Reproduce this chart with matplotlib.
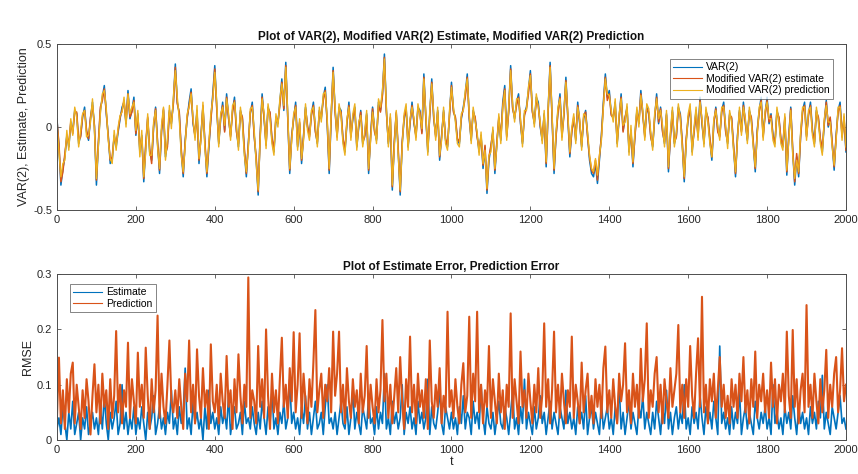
# VAR(2) estimate / prediction plot, matlab-ish look

import numpy as np
import matplotlib
matplotlib.use('Agg')
import matplotlib.pyplot as plt

plt.rcParams['font.family'] = ['Liberation Sans', 'DejaVu Sans']

# top panel: series sampled every 5 steps (one row = 100 steps)
t_top = np.arange(0, 2001, 5)

var2 = [
     0.05, -0.12, -0.35, -0.25, -0.18, -0.05, -0.12,  0.02, -0.02,  0.10,  0.08, -0.10, -0.05,  0.06,  0.12, -0.03, -0.08,  0.05,  0.15,  0.00,
    -0.35, -0.10,  0.10,  0.18,  0.25,  0.08, -0.05, -0.22, -0.20, -0.05, -0.12, -0.03,  0.05,  0.12,  0.15,  0.02,  0.22,  0.05,  0.10,  0.18,
    -0.05,  0.08, -0.15, -0.05, -0.33, -0.12,  0.05, -0.15, -0.20,  0.00,  0.12, -0.10, -0.28, -0.02,  0.10, -0.18, -0.10,  0.10,  0.02,  0.15,
     0.38,  0.15,  0.08, -0.15, -0.30, -0.08,  0.05,  0.15,  0.23,  0.02, -0.05,  0.10, -0.22, -0.05,  0.12, -0.10, -0.30, -0.12,  0.05,  0.20,
     0.37,  0.12, -0.10,  0.05,  0.15, -0.02,  0.20,  0.05, -0.05,  0.10,  0.18, -0.02, -0.12,  0.10,  0.05, -0.15, -0.30, -0.10,  0.08,  0.15,
    -0.05, -0.20, -0.41, -0.05,  0.20,  0.05, -0.10,  0.12,  0.08, -0.08, -0.15,  0.05,  0.02,  0.15,  0.29,  0.10,  0.39,  0.05, -0.28, -0.05,
     0.05,  0.15, -0.12,  0.02, -0.22, -0.05,  0.12,  0.00, -0.05,  0.08,  0.15, -0.02, -0.10,  0.10,  0.05,  0.18,  0.24,  0.02, -0.28,  0.05,
     0.36,  0.10, -0.05,  0.12,  0.10, -0.08, -0.15,  0.02,  0.15, -0.05,  0.05,  0.12, -0.12,  0.00,  0.10, -0.10, -0.05,  0.08, -0.28, -0.05,
     0.12, -0.02, -0.08,  0.15,  0.10,  0.20,  0.44,  0.10, -0.10,  0.05, -0.38, -0.10,  0.08, -0.15, -0.41, -0.10,  0.05,  0.12, -0.12,  0.02,
     0.15,  0.02, -0.05,  0.12,  0.10, -0.03,  0.32,  0.05, -0.15,  0.08,  0.29,  0.05, -0.05,  0.10, -0.20, -0.05,  0.10, -0.08, -0.12,  0.08,
     0.27,  0.10,  0.05, -0.08, -0.10,  0.05,  0.12,  0.20,  0.32,  0.05, -0.08,  0.10,  0.05, -0.05, -0.15, -0.05, -0.25, -0.12, -0.40, -0.20,
    -0.12, -0.02, -0.28, -0.10,  0.05, -0.08,  0.15,  0.25, -0.05,  0.10,  0.37,  0.12,  0.05,  0.15,  0.20,  0.02, -0.10,  0.08,  0.12,  0.22,
     0.34,  0.10,  0.02,  0.18,  0.15,  0.00, -0.08,  0.08, -0.24,  0.10,  0.39,  0.05, -0.28, -0.05,  0.10,  0.20, -0.05,  0.08,  0.30,  0.05,
    -0.18, -0.02,  0.05, -0.08,  0.15,  0.02, -0.12,  0.05,  0.10, -0.05, -0.20, -0.28, -0.30, -0.22, -0.34, -0.20, -0.05,  0.15,  0.32,  0.18,
     0.22,  0.08,  0.05,  0.15, -0.10,  0.05,  0.20, -0.02,  0.05,  0.12, -0.15, -0.02, -0.24, -0.05,  0.10,  0.02,  0.22,  0.08, -0.05,  0.12,
     0.08, -0.05, -0.12,  0.05,  0.20,  0.02,  0.12, -0.02, -0.10,  0.08, -0.27, -0.05,  0.10, -0.10, -0.05,  0.12,  0.08, -0.10, -0.33, -0.08,
     0.05,  0.12, -0.15, -0.02,  0.10, -0.05,  0.18,  0.02, -0.10,  0.10,  0.05, -0.08, -0.20,  0.02,  0.12, -0.02, -0.05,  0.10,  0.15, -0.02,
    -0.10,  0.08,  0.05, -0.12, -0.30, -0.05,  0.10, -0.02,  0.15,  0.02, -0.08,  0.10,  0.05, -0.10, -0.27, -0.02,  0.10,  0.18, -0.05,  0.08,
     0.18,  0.02,  0.08, -0.05, -0.10,  0.10,  0.05, -0.08, -0.12,  0.05, -0.29, -0.05,  0.12, -0.15, -0.35, -0.18, -0.30, -0.05,  0.10,  0.15,
    -0.05,  0.08,  0.15, -0.02, -0.10,  0.10,  0.05, -0.08, -0.15,  0.02,  0.16,  0.00,  0.05, -0.10, -0.26, -0.05,  0.10,  0.15, -0.05,  0.05,
    -0.15]

var2_est = [
     0.04, -0.10, -0.33, -0.27, -0.16, -0.06, -0.10,  0.03, -0.04,  0.09,  0.09, -0.08, -0.06,  0.07,  0.10, -0.02, -0.07,  0.06,  0.13,  0.01,
    -0.32, -0.09,  0.12,  0.16,  0.23,  0.09, -0.06, -0.20, -0.18, -0.06, -0.10, -0.02,  0.06,  0.10,  0.16,  0.03,  0.20,  0.06,  0.09,  0.16,
    -0.04,  0.07, -0.13, -0.06, -0.31, -0.10,  0.06, -0.13, -0.22,  0.01,  0.11, -0.09, -0.26, -0.03,  0.11, -0.16, -0.12,  0.09,  0.03,  0.14,
     0.36,  0.14,  0.09, -0.13, -0.28, -0.09,  0.06,  0.13,  0.21,  0.03, -0.06,  0.09, -0.20, -0.06,  0.13, -0.09, -0.28, -0.11,  0.04,  0.18,
     0.35,  0.11, -0.09,  0.06,  0.13, -0.03,  0.18,  0.06, -0.06,  0.09,  0.16, -0.03, -0.10,  0.09,  0.06, -0.13, -0.28, -0.11,  0.09,  0.13,
    -0.06, -0.18, -0.39, -0.06,  0.18,  0.06, -0.11,  0.11,  0.09, -0.07, -0.13,  0.06,  0.03,  0.13,  0.27,  0.11,  0.37,  0.06, -0.26, -0.06,
     0.06,  0.13, -0.11,  0.03, -0.20, -0.06,  0.11,  0.01, -0.06,  0.07,  0.13, -0.03, -0.09,  0.09,  0.06,  0.16,  0.22,  0.03, -0.26,  0.06,
     0.34,  0.09, -0.06,  0.11,  0.09, -0.07, -0.13,  0.03,  0.13, -0.06,  0.06,  0.11, -0.11,  0.01,  0.09, -0.09, -0.06,  0.07, -0.26, -0.06,
     0.11, -0.03, -0.07,  0.13,  0.09,  0.19,  0.42,  0.09, -0.09,  0.06, -0.36, -0.09,  0.09, -0.13, -0.39, -0.09,  0.06,  0.11, -0.11,  0.03,
     0.13,  0.03, -0.06,  0.11,  0.09, -0.04,  0.30,  0.06, -0.13,  0.07,  0.27,  0.06, -0.06,  0.09, -0.18, -0.06,  0.09, -0.07, -0.11,  0.07,
     0.25,  0.09,  0.06, -0.07, -0.09,  0.06,  0.11,  0.18,  0.30,  0.06, -0.07,  0.09,  0.06, -0.06, -0.13, -0.06, -0.23, -0.11, -0.38, -0.18,
    -0.11, -0.03, -0.26, -0.09,  0.06, -0.07,  0.13,  0.23, -0.06,  0.09,  0.35,  0.11,  0.06,  0.13,  0.18,  0.03, -0.09,  0.07,  0.11,  0.20,
     0.32,  0.09,  0.03,  0.16,  0.13,  0.01, -0.07,  0.07, -0.22,  0.09,  0.37,  0.06, -0.26, -0.06,  0.09,  0.18, -0.06,  0.07,  0.28,  0.06,
    -0.16, -0.03,  0.06, -0.07,  0.13,  0.03, -0.11,  0.06,  0.09, -0.06, -0.18, -0.26, -0.28, -0.20, -0.32, -0.18, -0.06,  0.13,  0.30,  0.16,
     0.20,  0.07,  0.06,  0.13, -0.09,  0.06,  0.18, -0.03,  0.06,  0.11, -0.13, -0.03, -0.22, -0.06,  0.09,  0.03,  0.20,  0.07, -0.06,  0.11,
     0.09, -0.06, -0.11,  0.06,  0.18,  0.03,  0.11, -0.03, -0.09,  0.07, -0.25, -0.06,  0.09, -0.09, -0.06,  0.11,  0.07, -0.09, -0.31, -0.07,
     0.06,  0.11, -0.13, -0.03,  0.09, -0.06,  0.16,  0.03, -0.09,  0.09,  0.06, -0.07, -0.18,  0.03,  0.11, -0.03, -0.06,  0.09,  0.13, -0.03,
    -0.09,  0.07,  0.06, -0.11, -0.28, -0.06,  0.09, -0.03,  0.13,  0.03, -0.07,  0.09,  0.06, -0.09, -0.25, -0.03,  0.09,  0.16, -0.06,  0.07,
     0.16,  0.03,  0.07, -0.06, -0.09,  0.09,  0.06, -0.07, -0.11,  0.06, -0.27, -0.06,  0.11, -0.13, -0.33, -0.16, -0.28, -0.06,  0.09,  0.13,
    -0.06,  0.07,  0.13, -0.03, -0.09,  0.09,  0.06, -0.07, -0.13,  0.03,  0.15,  0.01,  0.06, -0.09, -0.24, -0.06,  0.09,  0.13, -0.06,  0.06,
    -0.14]

var2_pred = [
     0.02, -0.15, -0.30, -0.22, -0.20, -0.02, -0.14,  0.05, -0.05,  0.12,  0.06, -0.12, -0.02,  0.08,  0.10, -0.06, -0.05,  0.03,  0.17, -0.02,
    -0.31, -0.12,  0.08,  0.20,  0.22,  0.11, -0.08, -0.19, -0.22, -0.02, -0.14,  0.00,  0.07,  0.09,  0.18,  0.00,  0.20,  0.08,  0.12,  0.15,
    -0.02,  0.10, -0.18, -0.02, -0.30, -0.15,  0.08, -0.17, -0.17,  0.03,  0.10, -0.12, -0.25,  0.01,  0.12, -0.20, -0.07,  0.13, -0.01,  0.18,
     0.34,  0.18,  0.05, -0.17, -0.27, -0.11,  0.08,  0.12,  0.20,  0.05, -0.08,  0.13, -0.19, -0.08,  0.15, -0.13, -0.27, -0.09,  0.08,  0.17,
     0.33,  0.15, -0.12,  0.08,  0.12,  0.01,  0.17,  0.08, -0.08,  0.13,  0.15,  0.01, -0.14,  0.12,  0.02, -0.17, -0.27, -0.13,  0.11,  0.12,
    -0.02, -0.22, -0.38, -0.08,  0.17,  0.08, -0.13,  0.14,  0.05, -0.10, -0.17,  0.08,  0.00,  0.17,  0.26,  0.13,  0.36,  0.08, -0.25, -0.08,
     0.08,  0.12, -0.14,  0.05, -0.19, -0.08,  0.14, -0.02, -0.08,  0.10,  0.12,  0.01, -0.12,  0.12,  0.03,  0.20,  0.21,  0.05, -0.25,  0.08,
     0.33,  0.12, -0.08,  0.14,  0.07, -0.10, -0.17,  0.05,  0.12, -0.08,  0.08,  0.14, -0.14,  0.03,  0.07, -0.12, -0.03,  0.10, -0.25, -0.08,
     0.09,  0.00, -0.10,  0.17,  0.12,  0.22,  0.41,  0.12, -0.12,  0.08, -0.35, -0.12,  0.10, -0.17, -0.38, -0.12,  0.08,  0.14, -0.14,  0.05,
     0.12,  0.05, -0.08,  0.14,  0.07, -0.01,  0.29,  0.08, -0.17,  0.10,  0.26,  0.08, -0.08,  0.12, -0.17, -0.08,  0.12, -0.10, -0.14,  0.10,
     0.24,  0.12,  0.03, -0.10, -0.12,  0.08,  0.10,  0.22,  0.29,  0.08, -0.10,  0.12,  0.03, -0.03, -0.17, -0.03, -0.22, -0.14, -0.37, -0.17,
    -0.15,  0.00, -0.25, -0.12,  0.08, -0.10,  0.12,  0.22, -0.08,  0.12,  0.34,  0.14,  0.03,  0.17,  0.17,  0.05, -0.12,  0.10,  0.10,  0.24,
     0.31,  0.12,  0.00,  0.20,  0.12,  0.03, -0.10,  0.10, -0.21,  0.12,  0.36,  0.08, -0.25, -0.03,  0.12,  0.17, -0.08,  0.10,  0.27,  0.08,
    -0.15,  0.00,  0.08, -0.10,  0.12,  0.05, -0.14,  0.08,  0.07, -0.03, -0.17, -0.25, -0.27, -0.19, -0.29, -0.17, -0.08,  0.12,  0.29,  0.20,
     0.19,  0.10,  0.03,  0.17, -0.12,  0.08,  0.17,  0.01,  0.03,  0.14, -0.17,  0.01, -0.21, -0.03,  0.12,  0.00,  0.19,  0.10, -0.08,  0.14,
     0.11, -0.03, -0.14,  0.08,  0.17,  0.05,  0.10,  0.01, -0.12,  0.10, -0.24, -0.03,  0.12, -0.12, -0.03,  0.14,  0.05, -0.12, -0.30, -0.10,
     0.08,  0.14, -0.17,  0.00,  0.12, -0.08,  0.15,  0.05, -0.12,  0.12,  0.03, -0.10, -0.18,  0.05,  0.10,  0.01, -0.08,  0.12,  0.12,  0.01,
    -0.13,  0.10,  0.03, -0.14, -0.27, -0.08,  0.12, -0.05,  0.12,  0.05, -0.10,  0.12,  0.03, -0.12, -0.24, -0.05,  0.12,  0.15, -0.08,  0.10,
     0.15,  0.05,  0.05, -0.08, -0.12,  0.12,  0.03, -0.10, -0.14,  0.08, -0.26, -0.08,  0.10, -0.17, -0.31, -0.20, -0.27, -0.03,  0.12,  0.12,
    -0.08,  0.10,  0.12, -0.05, -0.12,  0.12,  0.03, -0.10, -0.17,  0.05,  0.13,  0.03,  0.03, -0.12, -0.23, -0.08,  0.12,  0.12, -0.08,  0.08,
    -0.12]

# bottom panel: errors sampled every 5 steps
t_err = np.arange(0, 2001, 5)

est_err = [
    0.02, 0.04, 0.01, 0.06, 0.03, 0.00, 0.05, 0.02, 0.07, 0.01, 0.03, 0.05, 0.00, 0.04, 0.02, 0.06, 0.01, 0.03, 0.05, 0.02,
    0.04, 0.01, 0.06, 0.02, 0.08, 0.03, 0.00, 0.05, 0.02, 0.04, 0.07, 0.01, 0.03, 0.10, 0.02, 0.05, 0.01, 0.04, 0.02, 0.06,
    0.01, 0.04, 0.02, 0.06, 0.03, 0.00, 0.05, 0.02, 0.04, 0.08, 0.01, 0.03, 0.06, 0.02, 0.04, 0.01, 0.05, 0.03, 0.09, 0.02,
    0.04, 0.01, 0.06, 0.03, 0.05, 0.13, 0.02, 0.04, 0.01, 0.07, 0.03, 0.05, 0.02, 0.04, 0.00, 0.06, 0.02, 0.09, 0.03, 0.05,
    0.02, 0.04, 0.01, 0.06, 0.03, 0.05, 0.02, 0.08, 0.01, 0.04, 0.06, 0.02, 0.03, 0.05, 0.01, 0.07, 0.03, 0.04, 0.02, 0.06,
    0.03, 0.01, 0.05, 0.02, 0.07, 0.04, 0.01, 0.06, 0.03, 0.09, 0.02, 0.04, 0.01, 0.05, 0.03, 0.07, 0.02, 0.04, 0.11, 0.03,
    0.05, 0.02, 0.04, 0.01, 0.06, 0.03, 0.08, 0.02, 0.05, 0.01, 0.04, 0.07, 0.02, 0.03, 0.05, 0.01, 0.06, 0.10, 0.03, 0.04,
    0.02, 0.05, 0.01, 0.04, 0.07, 0.03, 0.02, 0.06, 0.01, 0.04, 0.09, 0.02, 0.05, 0.03, 0.01, 0.06, 0.04, 0.02, 0.08, 0.03,
    0.04, 0.01, 0.06, 0.02, 0.05, 0.03, 0.12, 0.02, 0.04, 0.01, 0.07, 0.03, 0.05, 0.02, 0.04, 0.10, 0.01, 0.05, 0.03, 0.06,
    0.02, 0.04, 0.01, 0.07, 0.03, 0.05, 0.02, 0.04, 0.11, 0.01, 0.06, 0.03, 0.02, 0.05, 0.09, 0.03, 0.01, 0.06, 0.04, 0.02,
    0.05, 0.02, 0.04, 0.01, 0.06, 0.03, 0.08, 0.02, 0.05, 0.04, 0.01, 0.07, 0.03, 0.05, 0.02, 0.10, 0.04, 0.01, 0.06, 0.03,
    0.02, 0.05, 0.01, 0.04, 0.07, 0.03, 0.02, 0.06, 0.04, 0.01, 0.05, 0.09, 0.02, 0.04, 0.01, 0.06, 0.03, 0.11, 0.02, 0.05,
    0.03, 0.01, 0.06, 0.02, 0.04, 0.08, 0.03, 0.05, 0.01, 0.04, 0.07, 0.02, 0.05, 0.03, 0.01, 0.06, 0.04, 0.02, 0.09, 0.03,
    0.05, 0.02, 0.04, 0.01, 0.06, 0.03, 0.05, 0.02, 0.08, 0.01, 0.04, 0.06, 0.02, 0.05, 0.03, 0.01, 0.07, 0.02, 0.04, 0.06,
    0.02, 0.04, 0.01, 0.06, 0.03, 0.10, 0.02, 0.05, 0.01, 0.04, 0.07, 0.02, 0.05, 0.03, 0.01, 0.06, 0.04, 0.08, 0.02, 0.05,
    0.03, 0.01, 0.05, 0.02, 0.07, 0.04, 0.01, 0.06, 0.03, 0.09, 0.02, 0.05, 0.01, 0.04, 0.06, 0.02, 0.05, 0.03, 0.10, 0.02,
    0.04, 0.01, 0.06, 0.03, 0.05, 0.02, 0.08, 0.04, 0.01, 0.06, 0.03, 0.05, 0.02, 0.07, 0.04, 0.01, 0.17, 0.03, 0.05, 0.02,
    0.04, 0.01, 0.06, 0.02, 0.05, 0.03, 0.09, 0.01, 0.04, 0.06, 0.02, 0.05, 0.03, 0.01, 0.07, 0.04, 0.02, 0.05, 0.03, 0.06,
    0.02, 0.04, 0.01, 0.10, 0.03, 0.05, 0.02, 0.04, 0.01, 0.06, 0.03, 0.05, 0.02, 0.08, 0.04, 0.01, 0.06, 0.03, 0.05, 0.02,
    0.04, 0.01, 0.06, 0.03, 0.05, 0.02, 0.07, 0.04, 0.117, 0.02, 0.05, 0.03, 0.01, 0.06, 0.04, 0.02, 0.05, 0.08, 0.03, 0.04,
    0.02]

pred_err = [
    0.04, 0.149, 0.03, 0.09, 0.02, 0.11, 0.05, 0.12, 0.14, 0.03, 0.10, 0.06, 0.02, 0.09, 0.04, 0.11, 0.07, 0.01, 0.08, 0.137,
    0.05, 0.10, 0.03, 0.12, 0.06, 0.09, 0.02, 0.11, 0.04, 0.08, 0.197, 0.05, 0.10, 0.03, 0.09, 0.06, 0.176, 0.04, 0.11, 0.07,
    0.03, 0.158, 0.06, 0.10, 0.04, 0.167, 0.08, 0.02, 0.11, 0.05, 0.09, 0.225, 0.04, 0.12, 0.06, 0.03, 0.10, 0.180, 0.07, 0.05,
    0.09, 0.04, 0.11, 0.06, 0.02, 0.12, 0.07, 0.180, 0.05, 0.10, 0.03, 0.164, 0.08, 0.04, 0.13, 0.06, 0.09, 0.02, 0.173, 0.07,
    0.05, 0.10, 0.03, 0.12, 0.07, 0.04, 0.152, 0.06, 0.09, 0.02, 0.11, 0.05, 0.155, 0.08, 0.03, 0.10, 0.06, 0.294, 0.04, 0.09,
    0.07, 0.03, 0.170, 0.06, 0.11, 0.04, 0.200, 0.08, 0.02, 0.12, 0.05, 0.09, 0.03, 0.11, 0.185, 0.06, 0.10, 0.04, 0.13, 0.07,
    0.195, 0.05, 0.10, 0.193, 0.04, 0.12, 0.07, 0.03, 0.11, 0.06, 0.14, 0.235, 0.05, 0.09, 0.12, 0.04, 0.10, 0.07, 0.13, 0.05,
    0.196, 0.08, 0.12, 0.196, 0.05, 0.10, 0.03, 0.13, 0.07, 0.04, 0.11, 0.06, 0.09, 0.03, 0.12, 0.05, 0.08, 0.170, 0.04, 0.10,
    0.06, 0.03, 0.11, 0.05, 0.09, 0.217, 0.07, 0.12, 0.04, 0.10, 0.03, 0.08, 0.13, 0.05, 0.150, 0.07, 0.02, 0.11, 0.06, 0.187,
    0.05, 0.10, 0.03, 0.12, 0.06, 0.09, 0.04, 0.11, 0.02, 0.180, 0.07, 0.04, 0.10, 0.06, 0.13, 0.03, 0.08, 0.05, 0.232, 0.06,
    0.09, 0.04, 0.11, 0.06, 0.03, 0.10, 0.139, 0.05, 0.08, 0.223, 0.04, 0.12, 0.07, 0.232, 0.05, 0.10, 0.03, 0.09, 0.06, 0.170,
    0.04, 0.11, 0.07, 0.03, 0.12, 0.05, 0.09, 0.02, 0.10, 0.06, 0.229, 0.04, 0.11, 0.07, 0.03, 0.160, 0.06, 0.09, 0.04, 0.12,
    0.07, 0.03, 0.10, 0.05, 0.13, 0.04, 0.08, 0.211, 0.06, 0.11, 0.03, 0.09, 0.196, 0.05, 0.10, 0.04, 0.12, 0.07, 0.03, 0.09,
    0.06, 0.187, 0.04, 0.10, 0.07, 0.03, 0.140, 0.05, 0.09, 0.12, 0.04, 0.08, 0.03, 0.11, 0.06, 0.10, 0.04, 0.13, 0.169, 0.05,
    0.09, 0.04, 0.11, 0.06, 0.03, 0.12, 0.07, 0.10, 0.175, 0.05, 0.09, 0.03, 0.12, 0.06, 0.10, 0.04, 0.165, 0.07, 0.11, 0.211,
    0.04, 0.09, 0.06, 0.12, 0.150, 0.05, 0.10, 0.03, 0.11, 0.07, 0.04, 0.13, 0.06, 0.09, 0.12, 0.208, 0.05, 0.10, 0.04, 0.11,
    0.06, 0.170, 0.08, 0.04, 0.12, 0.184, 0.06, 0.259, 0.05, 0.10, 0.03, 0.11, 0.07, 0.12, 0.04, 0.09, 0.150, 0.06, 0.10, 0.04,
    0.08, 0.03, 0.11, 0.06, 0.10, 0.04, 0.12, 0.07, 0.150, 0.05, 0.09, 0.03, 0.11, 0.06, 0.160, 0.04, 0.10, 0.07, 0.12, 0.05,
    0.09, 0.04, 0.140, 0.06, 0.11, 0.03, 0.10, 0.07, 0.12, 0.05, 0.196, 0.08, 0.04, 0.199, 0.06, 0.11, 0.03, 0.09, 0.12, 0.05,
    0.244, 0.06, 0.10, 0.04, 0.12, 0.07, 0.03, 0.11, 0.05, 0.09, 0.163, 0.04, 0.10, 0.06, 0.12, 0.150, 0.05, 0.09, 0.166, 0.07,
    0.10]

xticks = [0, 200, 400, 600, 800, 1000, 1200, 1400, 1600, 1800, 2000]
top_yticks = [-0.5, 0, 0.5]
top_yticklabels = ['-0.5', '0', '0.5']
bot_yticks = [0, 0.1, 0.2, 0.3]
bot_yticklabels = ['0', '0.1', '0.2', '0.3']

# matlab default colours
c_blue = '#0072BD'
c_orange = '#D95319'
c_yellow = '#EDB120'
frame = '#4d4d4d'
txt = '#262626'


def style_axes(ax):
    for s in ax.spines.values():
        s.set_color(frame)
        s.set_linewidth(0.7)
    ax.tick_params(direction='in', length=3, width=0.6, colors=frame,
                   labelcolor=txt, labelsize=8, top=True, right=True)
    ax.set_xlim(0, 2000)
    ax.set_xticks(xticks)
    ax.set_xticklabels([str(x) for x in xticks])


fig = plt.figure(figsize=(8.58, 4.74), dpi=100)
ax1 = fig.add_axes([0.0664, 0.557, 0.9196, 0.350])
ax2 = fig.add_axes([0.0664, 0.0717, 0.9196, 0.350])

# top panel
ax1.plot(t_top, var2, color=c_blue, lw=1.1, label='VAR(2)')
ax1.plot(t_top, var2_est, color=c_orange, lw=1.1, label='Modified VAR(2) estimate')
ax1.plot(t_top, var2_pred, color=c_yellow, lw=1.0, label='Modified VAR(2) prediction')
style_axes(ax1)
ax1.set_ylim(-0.5, 0.5)
ax1.set_yticks(top_yticks)
ax1.set_yticklabels(top_yticklabels)
ax1.set_ylabel('VAR(2), Estimate, Prediction', fontsize=9, color=txt, labelpad=2)
ax1.set_title('Plot of VAR(2), Modified VAR(2) Estimate, Modified VAR(2) Prediction',
              fontsize=8.5, fontweight='bold', color='#111111', pad=3)
leg1 = ax1.legend(loc='upper right', fontsize=7.5, frameon=True, fancybox=False,
                  edgecolor=frame, borderpad=0.3, labelspacing=0.15,
                  handlelength=2.8, handletextpad=0.4, bbox_to_anchor=(0.99, 0.94))
leg1.get_frame().set_linewidth(0.6)
for h in leg1.get_lines():
    h.set_linewidth(0.8)

# bottom panel
ax2.plot(t_err, est_err, color=c_blue, lw=1.2, label='Estimate')
ax2.plot(t_err, pred_err, color=c_orange, lw=1.5, label='Prediction')
style_axes(ax2)
ax2.set_ylim(0, 0.3)
ax2.set_yticks(bot_yticks)
ax2.set_yticklabels(bot_yticklabels)
ax2.set_ylabel('RMSE', fontsize=9, color=txt, labelpad=2)
ax2.set_xlabel('t', fontsize=9, color=txt, labelpad=1)
ax2.set_title('Plot of Estimate Error, Prediction Error',
              fontsize=8.5, fontweight='bold', color='#111111', pad=3)
leg2 = ax2.legend(loc='upper left', fontsize=7.5, frameon=True, fancybox=False,
                  edgecolor=frame, borderpad=0.3, labelspacing=0.15,
                  handlelength=2.8, handletextpad=0.4, bbox_to_anchor=(0.01, 0.97))
leg2.get_frame().set_linewidth(0.6)
for h in leg2.get_lines():
    h.set_linewidth(0.8)

fig.savefig('out.png', dpi=100)
plt.close(fig)
